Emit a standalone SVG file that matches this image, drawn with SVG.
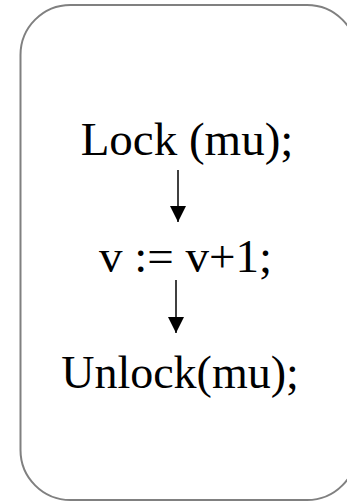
<svg xmlns="http://www.w3.org/2000/svg" width="347" height="502" viewBox="0 0 347 502">
<style>
.t{font-family:"Liberation Serif","Times New Roman",serif;font-size:47px;fill:#000;text-anchor:middle}
.c{stroke:#000;stroke-width:1.5;fill:none}
</style>
<defs>
<marker id="ah" viewBox="0 0 16 16" refX="16" refY="8" markerWidth="16" markerHeight="16" markerUnits="userSpaceOnUse" orient="auto">
<path d="M0,0 L16,8 L0,16 Z" fill="#000"/>
</marker>
</defs>
<rect x="20.5" y="5" width="336.5" height="495" rx="50" ry="50" fill="#fff" stroke="#808080" stroke-width="2"/>
<g id="n1"><text class="t" x="187" y="155">Lock (mu);</text></g>
<g id="n2"><text class="t" x="185.5" y="272">v := v+1;</text></g>
<g id="n3"><text class="t" x="180" y="388" style="font-size:46px">Unlock(mu);</text></g>
<g id="connectors">
<line class="c" x1="178" y1="170" x2="178" y2="222" marker-end="url(#ah)"/>
<line class="c" x1="176" y1="280" x2="176" y2="333" marker-end="url(#ah)"/>
</g>
</svg>
